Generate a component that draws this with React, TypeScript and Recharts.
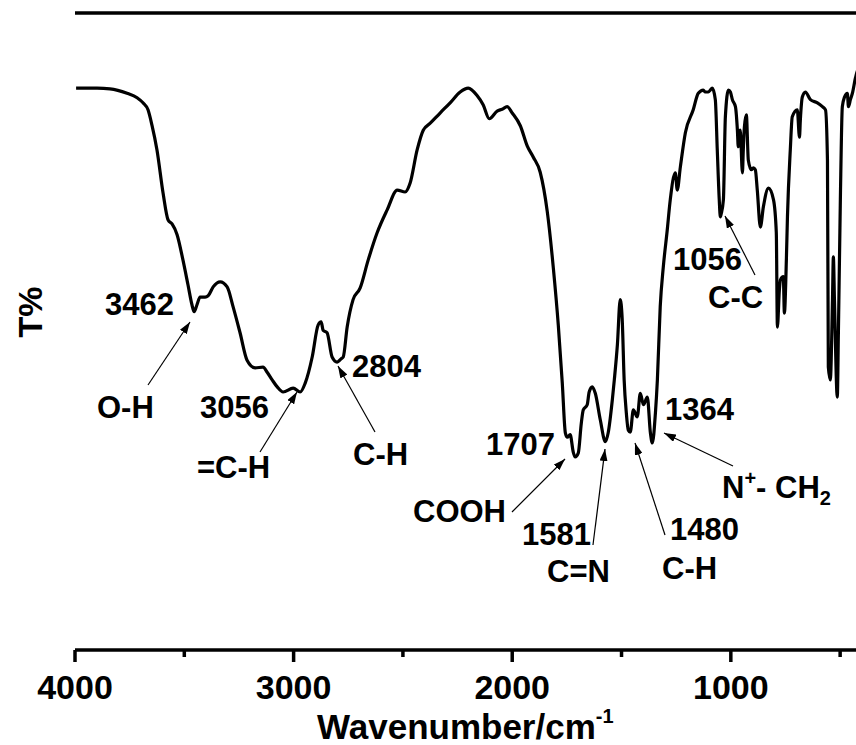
import React from "react";
import { LineChart, Line, XAxis, YAxis, ReferenceLine } from "recharts";

// Wavenumber (cm^-1)
const wavenumber = [
  3995, 3899, 3840, 3762, 3716, 3689, 3666, 3648, 3625, 3597, 3574, 3556, 3533, 3506, 3483, 3465, 3455, 3442, 3428, 3405,
  3391, 3368, 3336, 3304, 3277, 3245, 3213, 3176, 3140, 3121, 3098, 3075, 3048, 3002, 2970, 2947, 2915, 2888, 2874, 2865,
  2847, 2824, 2801, 2783, 2773, 2755, 2728, 2696, 2659, 2618, 2572, 2526, 2490, 2467, 2435, 2407, 2375, 2330, 2284, 2238,
  2201, 2160, 2133, 2105, 2069, 2046, 2023, 2000, 1963, 1931, 1904, 1872, 1840, 1812, 1789, 1771, 1757, 1748, 1735, 1721,
  1712, 1698, 1684, 1675, 1657, 1648, 1634, 1620, 1597, 1574, 1561, 1542, 1533, 1519, 1506, 1497, 1488, 1478, 1469, 1460,
  1446, 1428, 1414, 1400, 1382, 1368, 1359, 1345, 1336, 1323, 1309, 1291, 1277, 1254, 1245, 1231, 1208, 1172, 1149, 1126,
  1117, 1103, 1094, 1085, 1071, 1062, 1053, 1048, 1044, 1034, 1025, 1011, 1002, 993, 979, 970, 966, 957, 947, 943,
  938, 929, 920, 906, 897, 888, 879, 865, 851, 828, 805, 792, 787, 778, 773, 760, 755, 746, 741, 728,
  719, 696, 686, 682, 673, 659, 636, 604, 581, 567, 558, 554, 545, 535, 531, 526, 513, 508, 499, 490,
  480, 467, 462, 453, 444, 430, 420, 405,
];

// Transmittance (arbitrary T% units, 0-100 full frame)
const transmittance = [
  88.2, 88.2, 88.1, 87.4, 86.7, 85.9, 84.8, 82.4, 78.5, 71.7, 67.5, 66.9, 65.2, 61.2, 57.3, 54.2, 53.1, 54.2, 55.4, 55.4,
  55.6, 57.0, 57.8, 57.0, 53.9, 49.8, 45.5, 44.3, 44.4, 43.6, 42.4, 41.3, 40.5, 41.1, 40.5, 41.9, 46.0, 51.0, 51.5, 50.2,
  49.8, 46.0, 45.2, 45.7, 46.0, 50.7, 55.0, 56.8, 61.2, 65.5, 69.1, 72.2, 71.9, 73.3, 78.5, 81.6, 82.7, 84.3, 85.9, 87.6,
  88.2, 87.0, 85.6, 83.4, 84.6, 84.9, 85.3, 84.3, 82.3, 79.1, 77.4, 75.0, 68.9, 60.0, 50.9, 41.9, 34.1, 33.4, 33.8, 31.1,
  30.3, 30.9, 35.6, 37.7, 38.5, 40.5, 41.3, 40.3, 36.1, 32.7, 34.1, 39.3, 42.4, 47.9, 55.0, 52.0, 42.4, 37.2, 34.5, 34.2,
  37.7, 36.6, 40.3, 38.5, 39.7, 34.1, 32.5, 37.2, 42.4, 53.9, 60.1, 65.9, 70.7, 74.9, 72.2, 75.8, 81.2, 84.8, 87.4, 87.9,
  87.6, 87.6, 87.9, 88.2, 86.4, 78.5, 70.7, 68.0, 68.5, 70.7, 83.7, 87.9, 87.6, 86.4, 85.3, 81.6, 79.0, 81.6, 74.9, 78.5,
  82.1, 84.0, 76.9, 75.4, 75.7, 75.4, 72.2, 66.4, 69.6, 72.5, 70.7, 65.5, 50.7, 56.5, 58.1, 58.6, 52.9, 61.2, 68.0, 78.5,
  83.7, 84.8, 80.5, 83.2, 86.8, 87.6, 86.4, 85.9, 85.3, 84.8, 76.9, 44.4, 42.4, 55.0, 61.7, 55.0, 39.7, 49.8, 70.7, 85.3,
  86.8, 87.4, 85.3, 86.4, 87.4, 89.8, 91.0, 91.5,
];

const xTicks = [4000, 3500, 3000, 2500, 2000, 1500, 1000, 500];

// Annotation texts (layout positions in pixels of the picture)
const peakLabels = [
  { text: "3462", x: 105, y: 315 },
  { text: "O-H", x: 97, y: 418 },
  { text: "3056", x: 200, y: 418 },
  { text: "=C-H", x: 197, y: 478 },
  { text: "2804", x: 352, y: 377 },
  { text: "C-H", x: 353, y: 465 },
  { text: "1707", x: 486, y: 455 },
  { text: "COOH", x: 413, y: 522 },
  { text: "1581", x: 522, y: 545 },
  { text: "C=N", x: 547, y: 582 },
  { text: "1480", x: 670, y: 540 },
  { text: "C-H", x: 662, y: 579 },
  { text: "1364", x: 665, y: 420 },
  { text: "1056", x: 673, y: 270 },
  { text: "C-C", x: 708, y: 308 },
];

const arrows = [
  { x1: 148, y1: 385, x2: 190, y2: 322 },
  { x1: 260, y1: 452, x2: 297, y2: 392 },
  { x1: 375, y1: 432, x2: 338, y2: 366 },
  { x1: 512, y1: 512, x2: 565, y2: 459 },
  { x1: 593, y1: 545, x2: 605, y2: 449 },
  { x1: 665, y1: 535, x2: 635, y2: 443 },
  { x1: 733, y1: 466, x2: 664, y2: 433 },
  { x1: 755, y1: 275, x2: 725, y2: 216 },
];

const data = wavenumber.map((w, i) => ({ w, t: transmittance[i] }));

const FONT = "'Liberation Sans', Arial, Helvetica, sans-serif";

const XTick = (props: any) => {
  const { x, y, payload } = props;
  const major = payload.value % 1000 === 0;
  return (
    <g>
      <line x1={x} y1={y} x2={x} y2={y + (major ? 12 : 7)} stroke="#000" strokeWidth={3.5} />
      {major && (
        <text x={x} y={y + 49} textAnchor="middle" fontSize={34} fontWeight="bold" fontFamily={FONT} fill="#000">
          {payload.value}
        </text>
      )}
    </g>
  );
};

export default function App() {
  return (
    <div style={{ position: "fixed", left: 0, top: 0, width: 856, height: 745, overflow: "hidden", background: "#fff" }}>
      <style>{`html,body{margin:0;padding:0;overflow:hidden;}`}</style>
      <LineChart
        width={880}
        height={745}
        data={data}
        margin={{ top: 13, right: 18, bottom: 0, left: 75 }}
      >
        <XAxis
          dataKey="w"
          type="number"
          domain={[400, 4000]}
          reversed
          allowDataOverflow
          ticks={xTicks}
          interval={0}
          height={95}
          tickSize={0}
          tickMargin={0}
          tick={<XTick />}
          tickLine={false}
          axisLine={{ stroke: "#000", strokeWidth: 3.5 }}
        />
        <YAxis
          type="number"
          domain={[0, 100]}
          width={0}
          tick={false}
          tickLine={false}
          axisLine={{ stroke: "#000", strokeWidth: 3.5 }}
        />
        <ReferenceLine y={100} stroke="#000" strokeWidth={3.5} />
        <Line
          dataKey="t"
          type="monotone"
          stroke="#000"
          strokeWidth={3.2}
          dot={false}
          isAnimationActive={false}
        />
      </LineChart>
      <svg
        width={856}
        height={745}
        style={{ position: "absolute", left: 0, top: 0, pointerEvents: "none" }}
        fontFamily={FONT}
        fontWeight="bold"
      >
        <defs>
          <marker id="ah" markerWidth={12} markerHeight={8} refX={12} refY={4} orient="auto" markerUnits="userSpaceOnUse">
            <path d="M0,0 L12,4 L0,8 z" fill="#000" />
          </marker>
        </defs>
        {arrows.map((a, i) => (
          <line key={i} x1={a.x1} y1={a.y1} x2={a.x2} y2={a.y2} stroke="#000" strokeWidth={1.2} markerEnd="url(#ah)" />
        ))}
        {peakLabels.map((l, i) => (
          <text key={i} x={l.x} y={l.y} fontSize={31} fill="#000">
            {l.text}
          </text>
        ))}
        <text x={722} y={498} fontSize={31} fill="#000">
          N<tspan fontSize={20} dy={-13}>+</tspan>
          <tspan dy={13}>- CH</tspan>
          <tspan fontSize={20} dy={7}>2</tspan>
        </text>
        <text x={42} y={312} fontSize={34} fill="#000" textAnchor="middle" transform="rotate(-90 42 312)">
          T%
        </text>
        <text x={317} y={739} fontSize={35} fill="#000">
          Wavenumber/cm<tspan fontSize={20} dy={-16}>-1</tspan>
        </text>
      </svg>
    </div>
  );
}
